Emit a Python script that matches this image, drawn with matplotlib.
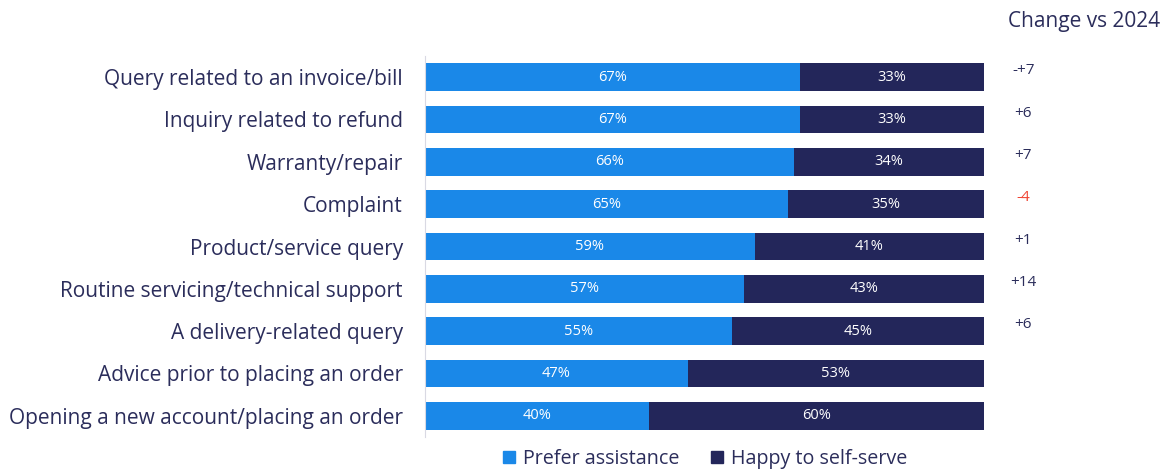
import numpy as np
import matplotlib.pyplot as plt
from matplotlib.patches import Patch

plt.rcParams['font.family'] = ['Open Sans', 'DejaVu Sans']

# survey categories, top to bottom
categories = [
    "Query related to an invoice/bill",
    "Inquiry related to refund",
    "Warranty/repair",
    "Complaint",
    "Product/service query",
    "Routine servicing/technical support",
    "A delivery-related query",
    "Advice prior to placing an order",
    "Opening a new account/placing an order",
]
prefer_assist = [67, 67, 66, 65, 59, 57, 55, 47, 40]
self_serve = [33, 33, 34, 35, 41, 43, 45, 53, 60]
change_labels = ["-+7", "+6", "+7", "-4", "+1", "+14", "+6"]

blue = "#1a88e8"
navy = "#23265a"
text_col = "#2b2d5b"

fig = plt.figure(figsize=(11.67, 4.70), dpi=100)
ax = fig.add_axes([425 / 1167, 1 - 437 / 470, (984 - 425) / 1167, (437 - 56) / 470])

y = np.arange(len(categories))
ax.barh(y, prefer_assist, height=0.66, color=blue)
ax.barh(y, self_serve, left=prefer_assist, height=0.66, color=navy)

for i in range(len(categories)):
    ax.text(prefer_assist[i] / 2, y[i], f"{prefer_assist[i]}%", ha="center", va="center",
            color="white", fontsize=10.5)
    ax.text(prefer_assist[i] + self_serve[i] / 2, y[i], f"{self_serve[i]}%", ha="center",
            va="center", color="white", fontsize=10.5)

ax.set_xlim(0, 100)
ax.set_ylim(len(categories) - 0.5, -0.5)
ax.set_yticks(y)
ax.set_yticklabels(categories, fontsize=15, color=text_col)
ax.tick_params(axis="y", length=0, pad=16)
ax.set_xticks([])
for s in ["top", "right", "bottom"]:
    ax.spines[s].set_visible(False)
ax.spines["left"].set_color("#d9d9e3")

# change vs previous year column
for i, lab in enumerate(change_labels):
    col = "#f04433" if lab == "-4" else text_col
    ax.text(107, y[i] - 0.15, lab, ha="center", va="center", fontsize=11, color=col)
fig.text(1084 / 1167, 1 - 21 / 470, "Change vs 2024", ha="center", va="center",
         fontsize=15, color=text_col)

handles = [Patch(color=blue), Patch(color=navy)]
fig.legend(handles, ["Prefer assistance", "Happy to self-serve"], loc="center",
           bbox_to_anchor=(705 / 1167, 1 - 459 / 470), ncol=2, frameon=False,
           fontsize=14.2, handlelength=0.6, handleheight=0.6, handletextpad=0.4,
           columnspacing=1.6, labelcolor=text_col)

fig.savefig("out.png", dpi=100)
